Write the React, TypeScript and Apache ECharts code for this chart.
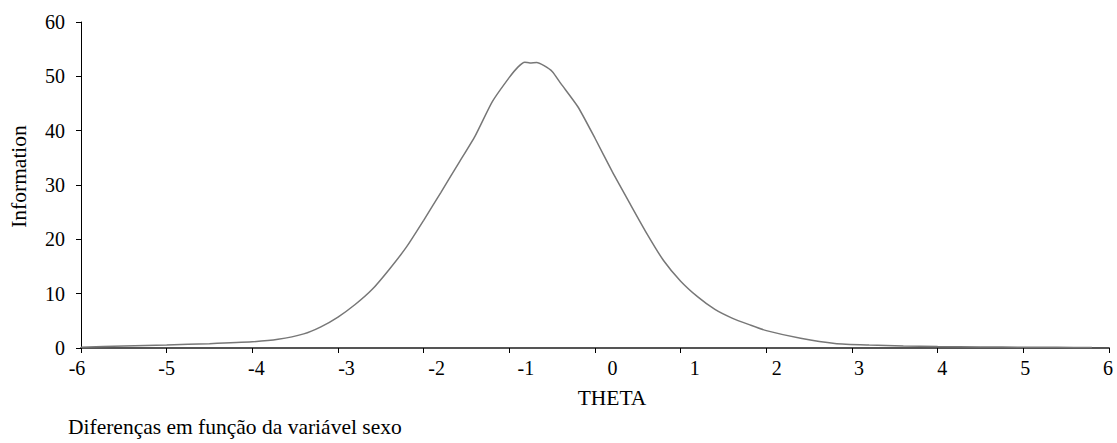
import React, { useEffect, useRef } from "react";
import * as echarts from "echarts";

// THETA values (x) and test information values (y)
const theta = [
  -6.0, -5.5, -5.0, -4.5, -4.0, -3.7, -3.4, -3.2, -3.0, -2.8, -2.6, -2.4, -2.2,
  -2.0, -1.8, -1.6, -1.4, -1.2, -1.0, -0.9, -0.82, -0.76, -0.68, -0.6, -0.5,
  -0.4, -0.2, 0.0, 0.2, 0.4, 0.6, 0.8, 1.0, 1.2, 1.4, 1.6, 1.8, 2.0, 2.4, 2.8,
  3.2, 3.6, 4.0, 4.5, 5.0, 5.4, 5.8,
];
const information = [
  0.15, 0.35, 0.55, 0.8, 1.15, 1.6, 2.6, 3.9, 5.7, 8.0, 10.8, 14.5, 18.6,
  23.5, 28.6, 33.8, 39.0, 45.3, 49.8, 51.7, 52.6, 52.45, 52.55, 52.0, 50.9,
  48.7, 44.4, 38.6, 32.5, 26.8, 21.2, 16.1, 12.3, 9.4, 7.1, 5.5, 4.3, 3.2,
  1.8, 0.85, 0.55, 0.38, 0.27, 0.2, 0.15, 0.12, 0.1,
];

const xTicks = [-6, -5, -4, -3, -2, -1, 0, 1, 2, 3, 4, 5, 6];
const xAxisTitle = "THETA";
const yAxisTitle = "Information";
const footnote = "Diferenças em função da variável sexo";

// label horizontal shift in px (style, as seen in the reference)
const labelShift = [-4, 0, 4, 8.5, 13, 16.5, 17.5, 14, 10.5, 7, 4.5, 2, -1];

const FONT = "'Liberation Serif', 'Times New Roman', serif";
const NAME_SIZE = 21.5;

export default function App() {
  const ref = useRef<HTMLDivElement>(null);

  useEffect(() => {
    if (!ref.current) return;
    const chart = echarts.init(ref.current, undefined, { renderer: "svg" });

    const rich: Record<string, any> = {};
    xTicks.forEach((_, i) => {
      const d = labelShift[i];
      rich["l" + i] = {
        fontFamily: FONT,
        fontSize: 20,
        color: "#000",
        padding: d >= 0 ? [0, 0, 0, 2 * d] : [0, -2 * d, 0, 0],
      };
    });

    chart.setOption({
      animation: false,
      backgroundColor: "#fff",
      title: {
        text: footnote,
        left: 68,
        top: 416,
        padding: 0,
        textStyle: {
          fontFamily: FONT,
          fontSize: NAME_SIZE,
          fontWeight: "normal",
          color: "#000",
        },
      },
      grid: { left: 81, right: 8, top: 22, bottom: 95, containLabel: false },
      xAxis: {
        type: "value",
        min: -6,
        max: 6,
        interval: 1,
        name: xAxisTitle,
        nameLocation: "middle",
        nameGap: 39,
        nameTextStyle: {
          fontFamily: FONT,
          fontSize: NAME_SIZE,
          color: "#000",
          padding: [0, 0, 0, 34],
        },
        axisLine: { show: true, onZero: false, lineStyle: { color: "#555", width: 2 } },
        axisTick: { show: true, length: 5, lineStyle: { color: "#000", width: 1 } },
        splitLine: { show: false },
        axisLabel: {
          margin: 10,
          fontFamily: FONT,
          fontSize: 20,
          color: "#000",
          rich,
          formatter: (v: number) => {
            const i = xTicks.indexOf(Math.round(v));
            return "{l" + i + "|" + String(Math.round(v)) + "}";
          },
        },
      },
      yAxis: {
        type: "value",
        min: 0,
        max: 60,
        interval: 10,
        name: yAxisTitle,
        nameLocation: "middle",
        nameGap: 51,
        nameTextStyle: {
          fontFamily: FONT,
          fontSize: NAME_SIZE,
          color: "#000",
          padding: [0, 0, 0, 17],
        },
        axisLine: { show: true, onZero: false, lineStyle: { color: "#000", width: 1 } },
        axisTick: { show: true, length: 5, lineStyle: { color: "#000", width: 1 } },
        splitLine: { show: false },
        axisLabel: {
          margin: 16,
          fontFamily: FONT,
          fontSize: 20,
          color: "#000",
        },
      },
      series: [
        {
          type: "line",
          data: theta.map((t, i) => [t, information[i]]),
          showSymbol: false,
          symbol: "none",
          smooth: 0.2,
          lineStyle: { color: "#777", width: 1.5 },
        },
      ],
    });

    return () => chart.dispose();
  }, []);

  return (
    <div
      ref={ref}
      style={{ position: "absolute", left: 0, top: 0, width: 1117, height: 443, background: "#fff" }}
    />
  );
}
